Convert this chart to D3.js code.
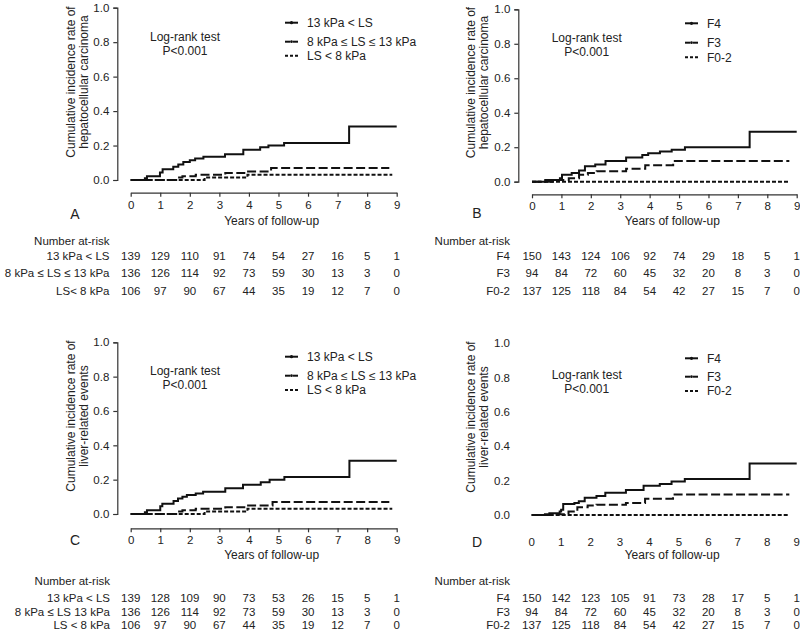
<!DOCTYPE html>
<html><head><meta charset="utf-8">
<script src="https://cdn.jsdelivr.net/npm/d3@7"></script>
<style>
body{margin:0;background:#fff;}
svg text{font-family:"Liberation Sans",Arial,sans-serif;fill:#222;}
</style></head>
<body><svg id="c" width="800" height="631"></svg>
<script>
// ---------- DATA ----------
const xTicks = [0,1,2,3,4,5,6,7,8,9];
const yTicks = [0,0.2,0.4,0.6,0.8,1.0];
const lsLabels = ["13 kPa < LS","8 kPa \u2264 LS \u2264 13 kPa","LS < 8 kPa"];
const fLabels = ["F4","F3","F0-2"];
// step curves: [year, cumulative incidence]
const hccLSHigh = [[0,0],[0.48,0.01],[0.55,0.022],[0.99,0.043],[1.08,0.062],[1.44,0.077],[1.61,0.09],[1.78,0.105],[2.0,0.115],[2.18,0.125],[2.46,0.135],[3.19,0.15],[3.81,0.175],[4.38,0.19],[4.66,0.20],[5.19,0.215],[7.39,0.31],[9.0,0.31]];
const hccLSMid  = [[0,0],[1.6,0.015],[1.75,0.022],[2.2,0.03],[3.2,0.04],[3.9,0.05],[4.75,0.07],[8.75,0.07]];
const hccLSLow  = [[0,0],[2.5,0.015],[3.95,0.03],[8.85,0.03]];
const hccF4  = [[0,0],[0.45,0.01],[0.95,0.02],[1.02,0.04],[1.35,0.05],[1.6,0.065],[1.8,0.09],[2.15,0.10],[2.5,0.12],[3.2,0.14],[3.75,0.155],[3.95,0.165],[4.35,0.175],[4.75,0.185],[5.2,0.20],[7.4,0.29],[9.0,0.29]];
const hccF3  = [[0,0],[0.7,0.01],[1.25,0.02],[1.6,0.04],[1.9,0.05],[2.2,0.06],[3.2,0.075],[3.85,0.095],[4.8,0.12],[8.75,0.12]];
const hccF02 = [[0,0],[8.75,0]];
const lreLSHigh = [[0,0],[0.48,0.01],[0.55,0.022],[1.0,0.045],[1.07,0.06],[1.45,0.075],[1.6,0.09],[1.75,0.10],[1.9,0.11],[2.2,0.12],[2.45,0.13],[3.2,0.15],[3.8,0.17],[4.4,0.185],[4.7,0.20],[5.2,0.215],[7.4,0.31],[9.0,0.31]];
const lreLSMid  = [[0,0],[1.6,0.015],[1.75,0.022],[2.2,0.03],[3.2,0.04],[3.9,0.05],[4.8,0.07],[8.75,0.07]];
const lreLSLow  = [[0,0],[2.5,0.015],[3.95,0.03],[8.85,0.03]];
const lreF4  = [[0,0],[0.45,0.005],[0.6,0.01],[0.95,0.02],[1.0,0.03],[1.07,0.064],[1.45,0.07],[1.6,0.08],[1.8,0.10],[2.2,0.11],[2.5,0.13],[3.2,0.145],[3.8,0.17],[4.35,0.18],[4.75,0.195],[5.2,0.21],[7.4,0.30],[9.0,0.30]];
const lreF3  = [[0,0],[0.7,0.005],[1.25,0.02],[1.55,0.045],[1.9,0.055],[2.2,0.06],[3.2,0.07],[3.85,0.095],[4.8,0.12],[8.75,0.12]];
const lreF02 = [[0,0],[8.75,0]];
// numbers at risk
const riskA = [[139,129,110,91,74,54,27,16,5,1],[136,126,114,92,73,59,30,13,3,0],[106,97,90,67,44,35,19,12,7,0]];
const riskB = [[150,143,124,106,92,74,29,18,5,1],[94,84,72,60,45,32,20,8,3,0],[137,125,118,84,54,42,27,15,7,0]];
const riskC = [[139,128,109,90,73,53,26,15,5,1],[136,126,114,92,73,59,30,13,3,0],[106,97,90,67,44,35,19,12,7,0]];
const riskD = [[150,142,123,105,91,73,28,17,5,1],[94,84,72,60,45,32,20,8,3,0],[137,125,118,84,54,42,27,15,7,0]];
const riskLabelsA = ["13 kPa < LS","8 kPa \u2264 LS \u2264 13 kPa","LS< 8 kPa"];
const riskLabelsC = ["13 kPa < LS","8 kPa \u2264 LS 13 kPa","LS < 8 kPa"];
const yTitleHcc = ["Cumulative incidence rate of","hepatocellular carcinoma"];
const yTitleLre = ["Cumulative incidence rate of","liver-related events"];

// ---------- DRAW ----------
const svg = d3.select("#c");
const styles = [
  {dash:null},
  {dash:"9,3.5"},
  {dash:"4,2"}
];
function panel(o){
  const g = svg.append("g");
  const x = d3.scaleLinear().domain([0,9]).range([o.x0,o.x1]);
  const y = d3.scaleLinear().domain([0,1]).range([o.yb,o.yt]);
  const fmt = d3.format(".1f");
  if(o.axes){
    const ya = g.append("g").attr("transform",`translate(${o.yax},0)`)
      .call(d3.axisLeft(y).tickValues(yTicks).tickFormat(fmt).tickSize(4).tickPadding(4));
    ya.select(".domain").attr("stroke","#333").attr("stroke-width",1.2);
    ya.selectAll(".tick line").attr("stroke","#333").attr("stroke-width",1.2);
    ya.selectAll("text").style("font-size","11.5px").attr("fill","#222");
    const xa = g.append("g").attr("transform",`translate(0,${o.xay})`)
      .call(d3.axisBottom(x).tickValues(xTicks).tickFormat(d3.format("d")).tickSize(4).tickPadding(4).tickSizeOuter(0));
    xa.select(".domain").attr("stroke","#333").attr("stroke-width",1.2);
    xa.selectAll(".tick line").attr("stroke","#333").attr("stroke-width",1.2);
    xa.selectAll("text").style("font-size","11.5px").attr("fill","#222");
  } else {
    g.selectAll(".yl").data(yTicks).enter().append("text")
      .attr("x",o.yax-8).attr("y",d=>y(d)).attr("dy","0.35em")
      .attr("text-anchor","end").style("font-size","11.5px").text(fmt);
    g.selectAll(".xl").data(xTicks).enter().append("text")
      .attr("x",d=>x(d)).attr("y",o.xlabY).attr("dy","0.35em")
      .attr("text-anchor","middle").style("font-size","11.5px").text(d=>d);
  }
  g.append("text").attr("x",(o.x0+o.x1)/2+8).attr("y",o.titleY).attr("dy","0.35em")
    .attr("text-anchor","middle").style("font-size","12px").text("Years of follow-up");
  o.yTitle.forEach((t,i)=>{
    g.append("text").attr("transform",`translate(${o.ytx[i]},${o.ytc}) rotate(-90)`)
      .attr("text-anchor","middle").attr("dy","0.35em").style("font-size","12px").text(t);
  });
  g.append("text").attr("x",o.letter[0]).attr("y",o.letter[1]).attr("dy","0.35em")
    .attr("text-anchor","middle").style("font-size","14px").text(o.letterT);
  const line = d3.line().x(d=>x(d[0])).y(d=>y(d[1])).curve(d3.curveStepAfter);
  o.series.forEach((s,i)=>{
    g.append("path").attr("d",line(s)).attr("fill","none").attr("stroke","#111")
      .attr("stroke-width",2).attr("stroke-dasharray",styles[i].dash);
  });
  g.append("text").attr("x",o.lr[0]).attr("y",o.lr[1]).attr("dy","0.35em").attr("text-anchor","middle").style("font-size","12px").text("Log-rank test");
  g.append("text").attr("x",o.lr[0]).attr("y",o.lr[2]).attr("dy","0.35em").attr("text-anchor","middle").style("font-size","12px").text("P<0.001");
  o.legLabels.forEach((t,i)=>{
    const ly = o.legY[i];
    const lx = o.legX;
    if(i===0){
      g.append("line").attr("x1",lx).attr("x2",lx+13).attr("y1",ly).attr("y2",ly).attr("stroke","#111").attr("stroke-width",2);
      g.append("circle").attr("cx",lx+6.5).attr("cy",ly).attr("r",1.6).attr("fill","#111");
    } else if(i===1){
      g.append("line").attr("x1",lx).attr("x2",lx+5).attr("y1",ly).attr("y2",ly).attr("stroke","#111").attr("stroke-width",2);
      g.append("line").attr("x1",lx+8).attr("x2",lx+13).attr("y1",ly).attr("y2",ly).attr("stroke","#111").attr("stroke-width",2);
      g.append("circle").attr("cx",lx+6.5).attr("cy",ly).attr("r",1.4).attr("fill","#111");
    } else {
      g.append("line").attr("x1",lx).attr("x2",lx+13).attr("y1",ly).attr("y2",ly).attr("stroke","#111").attr("stroke-width",2).attr("stroke-dasharray","3,2");
    }
    g.append("text").attr("x",lx+22).attr("y",ly).attr("dy","0.35em").style("font-size","12px").text(t);
  });
  g.append("text").attr("x",o.riskRight).attr("y",o.riskY[0]).attr("dy","0.35em").attr("text-anchor","end").style("font-size","11.5px").text("Number at-risk");
  o.risk.forEach((row,r)=>{
    g.append("text").attr("x",o.riskRight).attr("y",o.riskY[r+1]).attr("dy","0.35em").attr("text-anchor","end").style("font-size","11.5px").text(o.riskLabels[r]);
    g.selectAll(null).data(row).enter().append("text")
      .attr("x",(d,i)=>x(xTicks[i])).attr("y",o.riskY[r+1]).attr("dy","0.35em")
      .attr("text-anchor","middle").style("font-size","11.5px").text(d=>d);
  });
}

panel({x0:130.7,x1:396.7,yt:7.7,yb:180,axes:true,yax:117.3,xay:192.7,titleY:221,
  yTitle:yTitleHcc,ytx:[71,83.5],ytc:82,letter:[75,214],letterT:"A",
  series:[hccLSHigh,hccLSMid,hccLSLow],lr:[185,36.7,50.7],
  legLabels:lsLabels,legX:285,legY:[22.7,41.7,55.7],
  riskRight:109.5,riskY:[240.7,255.5,273.3,291.3],risk:riskA,riskLabels:riskLabelsA});
panel({x0:532,x1:796.7,yt:9.3,yb:181.7,axes:true,yax:518.3,xay:194.3,titleY:221,
  yTitle:yTitleHcc,ytx:[471,483.5],ytc:82.5,letter:[477,213],letterT:"B",
  series:[hccF4,hccF3,hccF02],lr:[586.7,37.7,52],
  legLabels:fLabels,legX:685,legY:[23.3,42.7,57.3],
  riskRight:510,riskY:[240.7,256,273.3,291.3],risk:riskB,riskLabels:fLabels});
panel({x0:130.7,x1:396.7,yt:342.3,yb:514,axes:true,yax:117.3,xay:528.3,titleY:555,
  yTitle:yTitleLre,ytx:[71,83.5],ytc:416,letter:[75,540],letterT:"C",
  series:[lreLSHigh,lreLSMid,lreLSLow],lr:[185,371,385],
  legLabels:lsLabels,legX:285,legY:[356.7,375.7,390],
  riskRight:110,riskY:[581,597.5,611.5,624.5],risk:riskC,riskLabels:riskLabelsC});
panel({x0:531.7,x1:796.7,yt:343.3,yb:515,axes:false,yax:518,xlabY:541.7,titleY:555,
  yTitle:yTitleLre,ytx:[471,483.5],ytc:417,letter:[477,541.7],letterT:"D",
  series:[lreF4,lreF3,lreF02],lr:[586.7,375,389],
  legLabels:fLabels,legX:685,legY:[358.3,376.7,391],
  riskRight:510,riskY:[581,597.5,611.5,624.5],risk:riskD,riskLabels:fLabels});
</script></body></html>
